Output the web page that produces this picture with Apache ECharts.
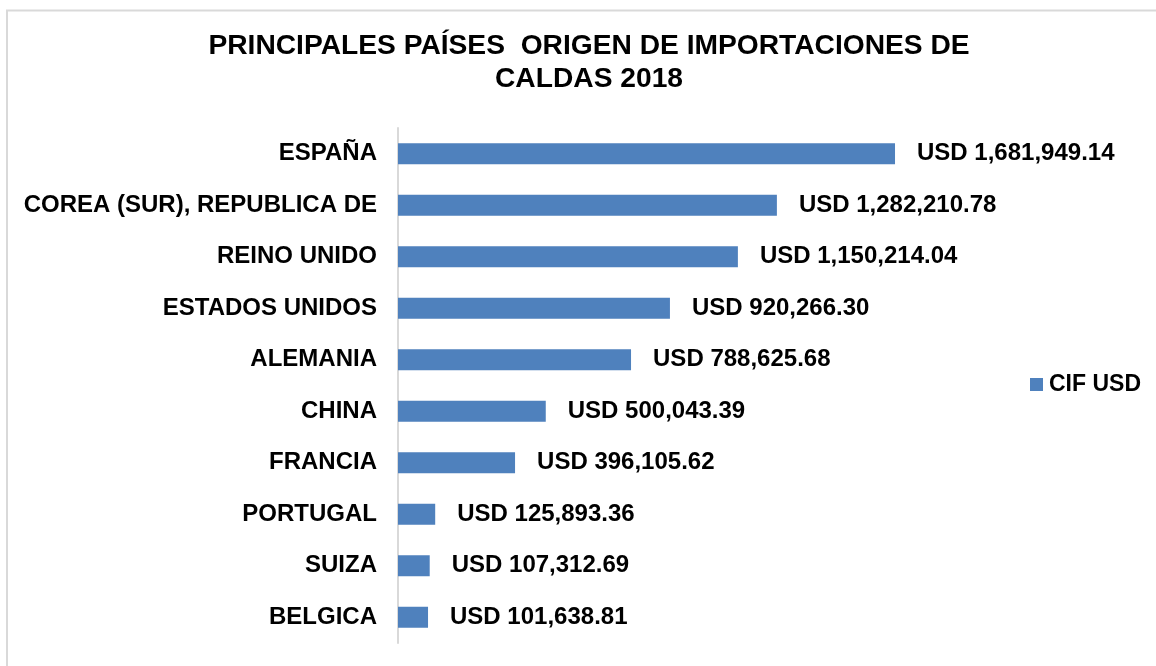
<!DOCTYPE html>
<html>
<head>
<meta charset="utf-8">
<script src="https://cdn.jsdelivr.net/npm/echarts@6/dist/echarts.min.js"></script>
<style>
  html, body { margin: 0; padding: 0; background: #fff; }
  #chart { width: 1156px; height: 666px; }
</style>
</head>
<body>
<div id="chart"></div>
<script>
// data
var paises = ['ESPAÑA', 'COREA (SUR), REPUBLICA DE', 'REINO UNIDO', 'ESTADOS UNIDOS',
    'ALEMANIA', 'CHINA', 'FRANCIA', 'PORTUGAL', 'SUIZA', 'BELGICA'];
var cifUsd = [1681949.14, 1282210.78, 1150214.04, 920266.30, 788625.68,
    500043.39, 396105.62, 125893.36, 107312.69, 101638.81];
var serieNombre = 'CIF USD';
var titulo = 'PRINCIPALES PAÍSES  ORIGEN DE IMPORTACIONES DE\nCALDAS 2018';

var FONT = '"Liberation Sans", Arial, sans-serif';

function fmtUsd(v) {
    var parts = v.toFixed(2).split('.');
    parts[0] = parts[0].replace(/\B(?=(\d{3})+(?!\d))/g, ',');
    return 'USD ' + parts.join('.');
}

var chart = echarts.init(document.getElementById('chart'));

var option = {
    animation: false,
    backgroundColor: '#fff',
    title: {
        text: titulo,
        left: 589,
        top: 30,
        textAlign: 'center',
        padding: 0,
        textStyle: {
            fontFamily: FONT,
            fontSize: 28.2,
            fontWeight: 'bold',
            color: '#000',
            lineHeight: 33
        }
    },
    legend: {
        data: [serieNombre],
        left: 1030,
        top: 373,
        padding: 0,
        itemWidth: 13,
        itemHeight: 13,
        icon: 'rect',
        textStyle: {
            fontFamily: FONT,
            fontSize: 23,
            fontWeight: 'bold',
            color: '#000',
            padding: [0, 0, 0, 1]
        }
    },
    grid: {
        left: 398,
        right: 167,
        top: 128,
        bottom: 23,
        containLabel: false
    },
    xAxis: {
        type: 'value',
        min: 0,
        max: 2000000,
        show: false
    },
    yAxis: {
        type: 'category',
        data: paises,
        inverse: true,
        axisLine: { show: true, lineStyle: { color: '#d9d9d9', width: 2 } },
        axisTick: { show: false },
        axisLabel: {
            margin: 21,
            fontFamily: FONT,
            fontSize: 24,
            fontWeight: 'bold',
            color: '#000'
        }
    },
    series: [{
        name: serieNombre,
        type: 'bar',
        data: cifUsd,
        barWidth: 21,
        itemStyle: { color: '#4f81bd' },
        label: {
            show: true,
            position: 'right',
            distance: 22,
            formatter: function (p) { return fmtUsd(p.value); },
            fontFamily: FONT,
            fontSize: 24,
            fontWeight: 'bold',
            color: '#000'
        }
    }],
    graphic: [{
        type: 'polyline',
        shape: { points: [[7, 700], [7, 10.5], [1200, 10.5]] },
        style: { fill: null, stroke: '#d9d9d9', lineWidth: 2 },
        silent: true
    }]
};

chart.setOption(option);
</script>
</body>
</html>
